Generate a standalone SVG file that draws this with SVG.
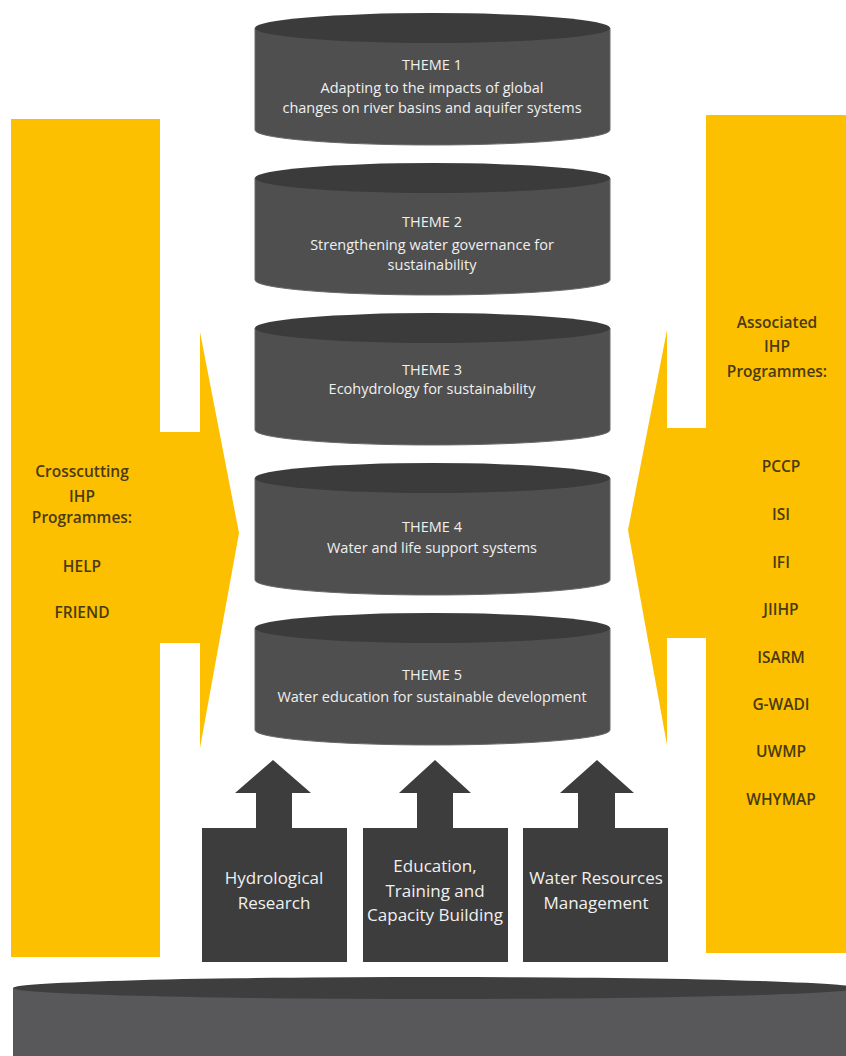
<svg xmlns="http://www.w3.org/2000/svg" width="846" height="1056" viewBox="0 0 846 1056">
<style>
.yel{fill:#FCC000}
.body{fill:#4f4f4f;stroke:#6a6a6a;stroke-width:1}
.top{fill:#3b3b3b}
.dk{fill:#3d3d3d}
.tt{font-family:"Open Sans","Liberation Sans",sans-serif;font-size:14.5px;fill:#f0f0f0;text-anchor:middle}
.yt{font-family:"Open Sans","Liberation Sans",sans-serif;font-size:15.5px;font-weight:600;fill:#4a3a12;text-anchor:middle}
.bt{font-family:"Open Sans","Liberation Sans",sans-serif;font-size:17px;fill:#f0f0f0;text-anchor:middle}
</style>
<rect width="846" height="1056" fill="#ffffff"/>

<g id="crosscutting">
<polygon class="yel" points="11,119 160,119 160,432 200,432 200,332 239,533 200,748 200,643 160,643 160,957 11,957"/>
<text class="yt" x="82" y="477">Crosscutting</text>
<text class="yt" x="82" y="502">IHP</text>
<text class="yt" x="82" y="523">Programmes:</text>
<text class="yt" x="82" y="572">HELP</text>
<text class="yt" x="82" y="618">FRIEND</text>
</g>

<g id="associated">
<polygon class="yel" points="706,115 846,115 846,953 706,953 706,638 667,638 667,745 628,530 667,330 667,428 706,428"/>
<text class="yt" x="777" y="328">Associated</text>
<text class="yt" x="777" y="352">IHP</text>
<text class="yt" x="777" y="377">Programmes:</text>
<text class="yt" x="781" y="472">PCCP</text>
<text class="yt" x="781" y="520">ISI</text>
<text class="yt" x="781" y="568">IFI</text>
<text class="yt" x="781" y="615">JIIHP</text>
<text class="yt" x="781" y="663">ISARM</text>
<text class="yt" x="781" y="710">G-WADI</text>
<text class="yt" x="781" y="757">UWMP</text>
<text class="yt" x="781" y="805">WHYMAP</text>
</g>

<g id="theme1">
<path class="body" d="M255,28 L255,130 A177.5,15 0 0 0 610,130 L610,28 Z"/>
<ellipse class="top" cx="432.5" cy="28" rx="177.5" ry="15"/>
<text class="tt" x="432" y="70">THEME 1</text>
<text class="tt" x="432" y="93">Adapting to the impacts of global</text>
<text class="tt" x="432" y="113">changes on river basins and aquifer systems</text>
</g>

<g id="theme2">
<path class="body" d="M255,178 L255,280 A177.5,15 0 0 0 610,280 L610,178 Z"/>
<ellipse class="top" cx="432.5" cy="178" rx="177.5" ry="15"/>
<text class="tt" x="432" y="227">THEME 2</text>
<text class="tt" x="432" y="250">Strengthening water governance for</text>
<text class="tt" x="432" y="270">sustainability</text>
</g>

<g id="theme3">
<path class="body" d="M255,328 L255,430 A177.5,15 0 0 0 610,430 L610,328 Z"/>
<ellipse class="top" cx="432.5" cy="328" rx="177.5" ry="15"/>
<text class="tt" x="432" y="375">THEME 3</text>
<text class="tt" x="432" y="394">Ecohydrology for sustainability</text>
</g>

<g id="theme4">
<path class="body" d="M255,478 L255,580 A177.5,15 0 0 0 610,580 L610,478 Z"/>
<ellipse class="top" cx="432.5" cy="478" rx="177.5" ry="15"/>
<text class="tt" x="432" y="532">THEME 4</text>
<text class="tt" x="432" y="553">Water and life support systems</text>
</g>

<g id="theme5">
<path class="body" d="M255,628 L255,730 A177.5,15 0 0 0 610,730 L610,628 Z"/>
<ellipse class="top" cx="432.5" cy="628" rx="177.5" ry="15"/>
<text class="tt" x="432" y="680">THEME 5</text>
<text class="tt" x="432" y="702">Water education for sustainable development</text>
</g>

<g id="connectors">
<polygon class="dk" points="256,829 256,793 235,793 273,760 311,793 292,793 292,829"/>
<polygon class="dk" points="417,829 417,793 399,793 435,760 471,793 453,793 453,829"/>
<polygon class="dk" points="578,829 578,793 560,793 597,760 634,793 615,793 615,829"/>
</g>

<g id="hydrological">
<rect class="dk" x="202" y="828" width="145" height="134"/>
<text class="bt" x="274" y="884">Hydrological</text>
<text class="bt" x="274" y="909">Research</text>
</g>

<g id="education">
<rect class="dk" x="363" y="828" width="145" height="134"/>
<text class="bt" x="435" y="872">Education,</text>
<text class="bt" x="435" y="897">Training and</text>
<text class="bt" x="435" y="921">Capacity Building</text>
</g>

<g id="waterresources">
<rect class="dk" x="523" y="828" width="145" height="134"/>
<text class="bt" x="596" y="884">Water Resources</text>
<text class="bt" x="596" y="909">Management</text>
</g>

<g id="platform">
<path fill="#58585a" d="M13,988 L13,1056 L856,1056 L856,988 Z"/>
<ellipse fill="#3e3e3e" cx="434.5" cy="988" rx="421.5" ry="11"/>
</g>
</svg>
